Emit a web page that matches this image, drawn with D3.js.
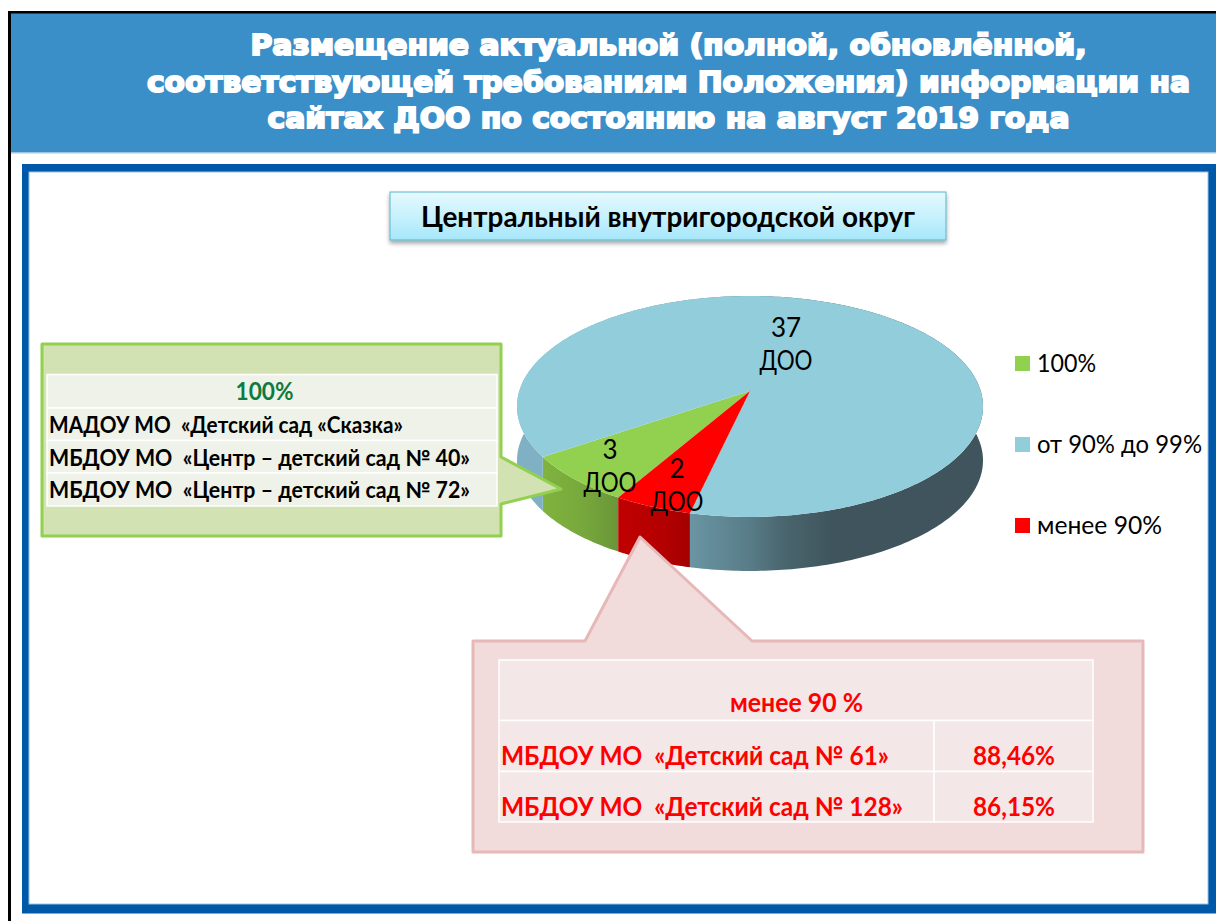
<!DOCTYPE html>
<html><head><meta charset="utf-8">
<script src="https://cdn.jsdelivr.net/npm/d3@7"></script>
<style>html,body{margin:0;padding:0;background:#fff}svg{display:block}</style>
</head><body><svg id="c" width="1216" height="921"></svg>
<script>
const titleLines = ["Размещение актуальной (полной, обновлённой,","соответствующей требованиям Положения) информации на","сайтах ДОО по состоянию на август 2019 года"];
const subtitle = "Центральный внутригородской округ";
const categories = ["100%","от 90% до 99%","менее 90%"];
const values = [3,37,2];
const valueUnit = "ДОО";
const colors = ["#92d050","#92cddc","#ff0000"];
const greenHeader = "100%";
const greenRows = ["МАДОУ МО  «Детский сад «Сказка»","МБДОУ МО  «Центр – детский сад № 40»","МБДОУ МО  «Центр – детский сад № 72»"];
const redHeader = "менее 90 %";
const redNames = ["МБДОУ МО  «Детский сад № 61»","МБДОУ МО  «Детский сад № 128»"];
const redValues = ["88,46%","86,15%"];

const FONT = "Lato, 'Open Sans', 'Noto Sans', sans-serif";
const svg = d3.select("#c");
const defs = svg.append("defs");
function rect(x,y,w,h,fill){return svg.append("rect").attr("x",x).attr("y",y).attr("width",w).attr("height",h).attr("fill",fill);}
function txt(s,x,y,o={}){
  const t = svg.append("text").attr("x",x).attr("y",y).text(s)
    .attr("font-family",o.family||FONT).attr("font-size",o.size||22)
    .attr("font-weight",o.weight||"normal").attr("fill",o.fill||"#000")
    .attr("text-anchor",o.anchor||"start").style("white-space","pre");
  if(o.len) t.attr("textLength",o.len).attr("lengthAdjust","spacingAndGlyphs");
  if(o.stroke) t.attr("stroke",o.stroke).attr("stroke-width",o.sw).attr("paint-order","stroke");
  return t;
}

// page frame
rect(8,11,1208,141,"#3a8fc9");
rect(8,11,1208,2.5,"#000");
rect(8,11,3,910,"#000");
rect(11,152,1205,1.5,"#9cc6e4");
rect(22,164,1194,749.5,"#0059a8");
rect(29,172,1179,732,"#fff").attr("stroke","#9cc0e2").attr("stroke-width",1);

// title
const tw=[836,1043,802], ty=[54.5,91.5,127.5];
titleLines.forEach((l,i)=>txt(l,668.5,ty[i],{family:"'DejaVu Sans',sans-serif",size:29,weight:"bold",fill:"#fff",anchor:"middle",len:tw[i],stroke:"#fff",sw:2}));

// subtitle box
const f = defs.append("filter").attr("id","sh").attr("x","-5%").attr("y","-20%").attr("width","110%").attr("height","150%");
f.append("feDropShadow").attr("dx",0).attr("dy",3).attr("stdDeviation",2).attr("flood-color","#000").attr("flood-opacity",.35);
const gb = defs.append("linearGradient").attr("id","gBox").attr("x1",0).attr("x2",0).attr("y1",0).attr("y2",1);
[[0,"#e5f9fe"],[.5,"#c8f1fd"],[1,"#a6e7fb"]].forEach(([o,c])=>gb.append("stop").attr("offset",o).attr("stop-color",c));
rect(390,192,556,48,"url(#gBox)").attr("stroke","#5bb3cb").attr("stroke-width",1).attr("filter","url(#sh)");
txt(subtitle,668,227,{size:28,weight:"bold",anchor:"middle",len:494});

// pie: perspective-projected disc
const cx=750, cy=391, depth=54, persp=.14;
const rx=d3.scaleLinear().domain([-1,1]).range([-230.7,230.7]);
const ry=d3.scaleLinear().domain([-1,1]).range([-108.3,108.3]);
const proj=a=>{const u=Math.sin(a), v=-Math.cos(a), d=1-persp*v; return [cx+rx(u)/d, cy+ry(v)/d];};
const pie=d3.pie().sort(null).startAngle(210.14*Math.PI/180).endAngle((210.14+360)*Math.PI/180);
const arcs=pie(values);
const line=d3.line();
const sample=(a0,a1)=>{const n=Math.max(4,Math.ceil((a1-a0)*60));return d3.range(n+1).map(i=>proj(a0+(a1-a0)*i/n));};

function sideGrad(id,x1,x2,stops){
  const g=defs.append("linearGradient").attr("id",id).attr("gradientUnits","userSpaceOnUse").attr("x1",x1).attr("x2",x2).attr("y1",0).attr("y2",0);
  stops.forEach(([o,c])=>g.append("stop").attr("offset",o).attr("stop-color",c));
}
sideGrad("s0",542,618,[[0,"#80b33f"],[.5,"#78a93c"],[1,"#6a9639"]]);
sideGrad("s1",517,983,[[0,"#7fb0c3"],[.06,"#7fb0c3"],[.37,"#6a95a3"],[.5,"#587c88"],[.57,"#4a666f"],[.68,"#3f545c"],[1,"#3f545c"]]);
sideGrad("s2",618,691,[[0,"#c00000"],[.6,"#b40000"],[1,"#a30000"]]);

const gPie=svg.append("g");
gPie.selectAll("path.side").data(arcs).join("path").attr("class","side")
  .attr("d",d=>{const top=sample(d.startAngle,d.endAngle);const bot=top.slice().reverse().map(([x,y])=>[x,y+depth]);return line(top.concat(bot))+"Z";})
  .attr("fill",(d,i)=>`url(#s${i})`);
gPie.selectAll("path.top").data(arcs).join("path").attr("class","top")
  .attr("d",d=>line([[cx,cy]].concat(sample(d.startAngle,d.endAngle)))+"Z")
  .attr("fill",(d,i)=>colors[i]);

// callouts
const greenPath=d3.path();
greenPath.moveTo(42,344);greenPath.lineTo(501,344);greenPath.lineTo(501,457);greenPath.lineTo(561,489);greenPath.lineTo(501,504);greenPath.lineTo(501,536);greenPath.lineTo(42,536);greenPath.closePath();
svg.append("path").attr("d",greenPath.toString()).attr("fill","#d3e2b2").attr("stroke","#92d050").attr("stroke-width",3).attr("stroke-linejoin","round");
const redPath=d3.path();
redPath.moveTo(473,641);redPath.lineTo(585,641);redPath.lineTo(640,537);redPath.lineTo(752,641);redPath.lineTo(1143,641);redPath.lineTo(1143,852);redPath.lineTo(473,852);redPath.closePath();
svg.append("path").attr("d",redPath.toString()).attr("fill","#f2dcdb").attr("stroke","#e6b8b7").attr("stroke-width",3).attr("stroke-linejoin","round");

// green table
const gy=[374.5,408,440.5,473,506];
d3.pairs(gy).forEach(([a,b])=>rect(47,a,450,b-a,"#eff2e8").attr("stroke","#fff").attr("stroke-width",1.5));
txt(greenHeader,264.5,400,{size:24,weight:"bold",fill:"#0d7a3e",anchor:"middle",len:58});
const glen=[354,421,421];
greenRows.forEach((r,i)=>txt(r,49,gy[i+1]+25,{size:22,weight:"bold",len:glen[i]}));

// red table
const ry2=[660,720.5,771.5,822];
rect(499,ry2[0],594,ry2[1]-ry2[0],"#f3e7e7").attr("stroke","#fff").attr("stroke-width",1.5);
redNames.forEach((n,i)=>{
  rect(499,ry2[i+1],435,ry2[i+2]-ry2[i+1],"#f3e7e7").attr("stroke","#fff").attr("stroke-width",1.5);
  rect(934,ry2[i+1],159,ry2[i+2]-ry2[i+1],"#f3e7e7").attr("stroke","#fff").attr("stroke-width",1.5);
});
const RS={size:26,weight:"bold",fill:"#ff0000"};
txt(redHeader,796.5,712,{...RS,anchor:"middle",len:133});
const nlen=[388,402];
redNames.forEach((n,i)=>txt(n,501,[765,816][i],{...RS,len:nlen[i]}));
redValues.forEach((v,i)=>txt(v,1014,[765,816][i],{...RS,anchor:"middle",len:82}));

// data labels
const lx=[610,786,677], ly=[[459,492],[337,370],[478,511]];
values.forEach((v,i)=>{
  txt(String(v),lx[i],ly[i][0],{size:26,anchor:"middle"});
  txt(valueUnit,lx[i],ly[i][1],{size:26,anchor:"middle",len:53});
});

// legend
const legY=d3.scalePoint().domain(categories).range([363.5,525.5]);
const llen=[59,165,125];
categories.forEach((c,i)=>{
  rect(1015,legY(c)-7.5,15,15,colors[i]);
  txt(c,1037,legY(c)+8,{size:25,len:llen[i]});
});
</script></body></html>
